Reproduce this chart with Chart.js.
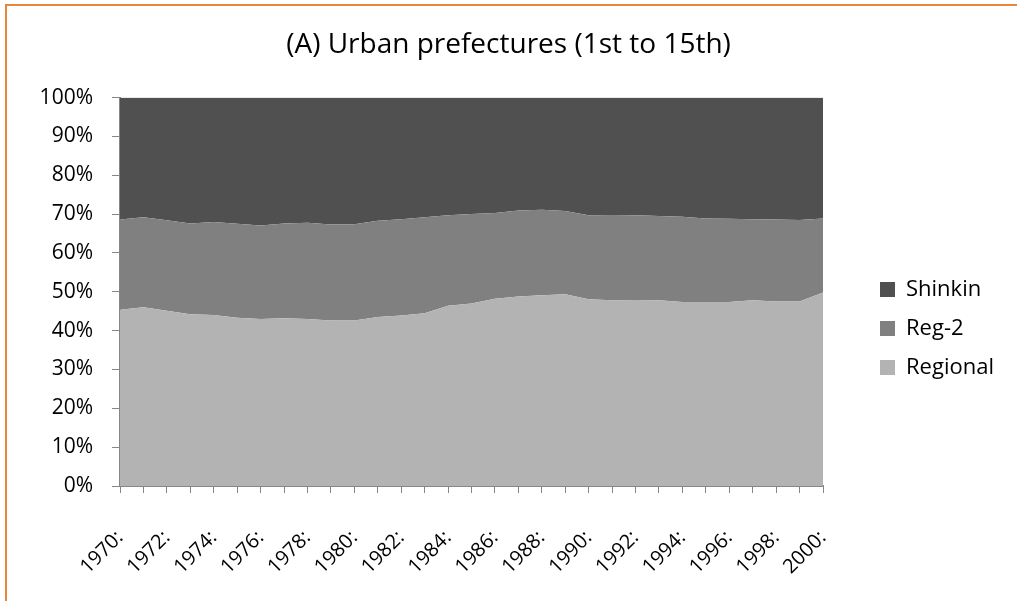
<!DOCTYPE html>
<html>
<head>
<meta charset="utf-8">
<script src="https://cdn.jsdelivr.net/npm/chart.js@4.4.1/dist/chart.umd.min.js"></script>
<style>
  html, body { margin: 0; padding: 0; background: #fff; overflow: hidden; }
  #marco {
    position: absolute; left: 5px; top: 4px;
    width: 1100px; height: 700px;
    border: 2px solid #E8863A;
  }
  #lienzo { position: absolute; left: 0; top: 0; }
</style>
</head>
<body>
<div id="marco"></div>
<div id="lienzo"><canvas id="grafico" width="1017" height="601"></canvas></div>
<script>
// Datos (porcentajes por año)
const years = [];
for (let y = 1970; y <= 2000; y++) years.push(y + ":");

const regional = [45.4, 46.0, 45.1, 44.2, 44.0, 43.3, 43.0, 43.2, 43.0, 42.6,
                  42.6, 43.5, 43.9, 44.5, 46.4, 47.0, 48.2, 48.8, 49.1, 49.4,
                  48.1, 47.8, 47.9, 47.8, 47.4, 47.4, 47.4, 47.8, 47.5, 47.5, 49.8];
const reg2 = [23.2, 23.2, 23.3, 23.4, 24.0, 24.2, 24.1, 24.4, 24.8, 24.7,
              24.8, 24.8, 24.8, 24.7, 23.3, 23.0, 22.1, 22.1, 22.0, 21.4,
              21.6, 22.0, 21.8, 21.7, 21.9, 21.5, 21.4, 20.9, 21.1, 21.0, 19.1];
const shinkin = [31.4, 30.8, 31.6, 32.4, 32.0, 32.5, 32.9, 32.4, 32.2, 32.7,
                 32.6, 31.7, 31.3, 30.8, 30.3, 30.0, 29.7, 29.1, 28.9, 29.2,
                 30.3, 30.2, 30.3, 30.5, 30.7, 31.1, 31.2, 31.3, 31.4, 31.5, 31.1];
const yTicks = [0, 10, 20, 30, 40, 50, 60, 70, 80, 90, 100];

const FUENTE = "'Open Sans', sans-serif";
const gris = "#868686";

// Leyenda: ancho fijo y desplazada como en el original
const ajusteLeyenda = {
  id: "ajusteLeyenda",
  afterInit(chart) {
    const lg = chart.legend;
    const fitOrig = lg.fit.bind(lg);
    lg.fit = function () { fitOrig(); this.width = 194; };
  },
  afterLayout(chart) {
    const lg = chart.legend;
    lg.left += 40;
    lg.right += 40;
    lg.top += 28;
    lg.bottom += 28;
  }
};

const ctx = document.getElementById("grafico").getContext("2d");

new Chart(ctx, {
  type: "line",
  data: {
    labels: years,
    datasets: [
      { label: "Regional", data: regional, fill: "origin", backgroundColor: "#b3b3b3", borderWidth: 0, pointRadius: 0 },
      { label: "Reg-2", data: reg2, fill: "-1", backgroundColor: "#808080", borderWidth: 0, pointRadius: 0 },
      { label: "Shinkin", data: shinkin, fill: "-1", backgroundColor: "#505050", borderWidth: 0, pointRadius: 0 }
    ]
  },
  plugins: [ajusteLeyenda],
  options: {
    responsive: false,
    animation: false,
    layout: { padding: { top: 0, right: 0, bottom: 0, left: 0 } },
    plugins: {
      title: {
        display: true,
        text: "(A) Urban prefectures (1st to 15th)",
        color: "#000",
        font: { family: FUENTE, size: 28, weight: "normal" },
        padding: { top: 28, bottom: 36 }
      },
      legend: {
        position: "right",
        reverse: true,
        labels: {
          color: "#000",
          boxWidth: 15,
          boxHeight: 15,
          padding: 17,
          font: { family: FUENTE, size: 22 }
        }
      },
      tooltip: { enabled: false }
    },
    scales: {
      x: {
        offset: false,
        grid: { display: true, drawOnChartArea: false, color: gris, tickLength: 7, lineWidth: 1 },
        border: { color: gris, width: 2 },
        ticks: {
          autoSkip: false,
          maxRotation: 45,
          minRotation: 45,
          color: "#000",
          padding: 33,
          font: { family: FUENTE, size: 20 },
          callback: (v, i) => (i % 2 === 0 ? years[i] : "")
        },
        afterFit: (s) => { s.height = 115; }
      },
      y: {
        stacked: true,
        min: 0,
        max: 100,
        afterBuildTicks: (s) => { s.ticks = yTicks.map(v => ({ value: v })); },
        grid: { display: true, drawOnChartArea: false, color: gris, tickLength: 8, lineWidth: 1 },
        border: { color: gris, width: 2 },
        ticks: {
          color: "#000",
          padding: 19,
          font: { family: FUENTE, size: 21 },
          callback: (v) => v + "%"
        },
        afterFit: (s) => { s.width = 120; }
      }
    }
  }
});
</script>
</body>
</html>
